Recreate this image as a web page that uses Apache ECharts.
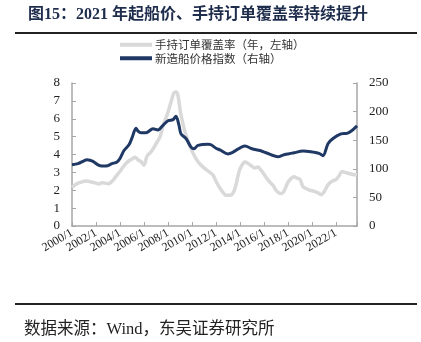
<!DOCTYPE html>
<html><head><meta charset="utf-8">
<script src="https://cdn.jsdelivr.net/npm/echarts@6/dist/echarts.min.js"></script>
<style>html,body{margin:0;padding:0;background:#fff}#c{width:421px;height:342px}</style>
</head><body><div id="c"></div>
<script>
// Hand-held order coverage (years, left axis)
const coverDates = ["2000/1","2000/4","2000/7","2000/10","2001/1","2001/4","2001/7","2001/10","2002/1","2002/4","2002/7","2002/10","2003/1","2003/4","2003/7","2003/10","2004/1","2004/4","2004/7","2004/10","2005/1","2005/4","2005/7","2005/10","2006/1","2006/4","2006/8","2006/11","2007/1","2007/5","2007/8","2007/12","2008/4","2008/7","2008/9","2008/11","2009/2","2009/7","2010/1","2010/7","2011/1","2011/7","2011/10","2012/1","2012/4","2012/7","2012/11","2013/4","2013/7","2013/9","2013/11","2014/1","2014/4","2014/6","2014/9","2014/12","2015/4","2015/7","2015/10","2016/1","2016/4","2016/7","2016/10","2017/1","2017/4","2017/7","2017/9","2017/11","2018/1","2018/4","2018/7","2018/10","2019/1","2019/4","2019/7","2019/11","2020/3","2020/7","2020/10","2021/1","2021/5","2021/9","2022/1","2022/4","2022/7","2022/10","2023/1","2023/5","2023/10"];
const coverValues = [2.15,2.3,2.4,2.45,2.5,2.52,2.48,2.45,2.4,2.35,2.42,2.4,2.36,2.45,2.62,2.85,3.05,3.3,3.5,3.65,3.75,3.85,3.7,3.6,3.4,3.9,4.15,4.4,4.6,4.98,5.6,6.2,6.94,7.45,7.5,7.3,6.2,5.07,4.2,3.6,3.25,3.0,2.85,2.5,2.2,1.95,1.72,1.73,1.95,2.3,2.8,3.2,3.5,3.6,3.5,3.38,3.25,3.3,3.12,2.9,2.65,2.45,2.28,2.0,1.85,1.82,1.95,2.2,2.45,2.65,2.75,2.68,2.6,2.2,2.1,2.0,1.95,1.85,1.75,1.9,2.3,2.5,2.6,2.8,3.05,3.0,2.95,2.9,2.85];
// Newbuilding price index (right axis)
const priceDates = ["2000/1","2000/7","2001/1","2001/4","2001/7","2001/10","2002/3","2002/7","2002/11","2003/5","2003/10","2004/1","2004/5","2004/10","2005/1","2005/5","2005/7","2005/10","2006/3","2006/10","2007/3","2007/8","2008/1","2008/6","2008/9","2008/12","2009/2","2009/7","2009/12","2010/3","2010/7","2011/5","2011/8","2012/1","2012/5","2013/1","2013/6","2014/6","2015/1","2015/9","2016/3","2017/3","2017/8","2018/1","2018/7","2019/4","2019/12","2020/3","2020/8","2020/12","2021/5","2021/10","2022/6","2022/12","2023/5","2023/10"];
const priceValues = [107,109,114,116,115,113,107,105,105,109,112,118,132,142,154,171,166,163,163,170,168,176,184,186,192,176,161,153,138,135,141,143,142,136,133,126,129,140,135,132,128,121,124,126,128,131,130,129,127,123,144,153,161,162,167,175];
const xTickYears = [2000,2002,2004,2006,2008,2010,2012,2014,2016,2018,2020,2022];
const leftTicks = [0,1,2,3,4,5,6,7,8];
const rightTicks = [0,50,100,150,200,250];
const seriesNames = ["手持订单覆盖率（年，左轴）","新造船价格指数（右轴）"];
const titleText = "图15：2021 年起船价、手持订单覆盖率持续提升";
const sourceText = "数据来源：Wind，东吴证券研究所";

function toYear(s){const p=s.split('/');return +p[0]+(+p[1]-1)/12;}
const coverData = coverDates.map((d,i)=>[toYear(d),coverValues[i]]);
const priceData = priceDates.map((d,i)=>[toYear(d),priceValues[i]]);

const serif = '"Liberation Serif","Noto Sans CJK SC",serif';
const axisColor = '#a6a6a6';
const grayC = '#d9d9d9', blueC = '#1f3864';
const chart = echarts.init(document.getElementById('c'));
chart.setOption({
  animation:false,
  title:{text:titleText,left:23,top:2,textStyle:{fontFamily:serif,fontSize:16,fontWeight:'bold',color:'#1f2d4d'}},
  graphic:[
    {type:'line',shape:{x1:15,y1:33,x2:417,y2:33},style:{stroke:'#222',lineWidth:2}},
    {type:'line',shape:{x1:15,y1:304,x2:417,y2:304},style:{stroke:'#222',lineWidth:2}},
    {type:'text',left:24,top:321,style:{text:sourceText,font:'16.5px '+serif,fill:'#222'}}
  ],
  legend:{orient:'vertical',left:115,top:34,itemWidth:32,itemHeight:4,itemGap:2,
    textStyle:{fontFamily:'"Noto Sans CJK SC",sans-serif',fontSize:11.5,color:'#333',padding:[0,0,0,-2]},
    data:[{name:seriesNames[0],icon:'rect',itemStyle:{color:grayC}},{name:seriesNames[1],icon:'rect',itemStyle:{color:blueC}}]},
  grid:{left:72,right:64,top:83,bottom:116},
  xAxis:{type:'value',min:2000,max:2023.75,interval:2,
    axisLine:{lineStyle:{color:axisColor,width:1.5}},
    axisTick:{inside:true,length:4,lineStyle:{color:axisColor}},
    splitLine:{show:false},
    axisLabel:{rotate:30,fontFamily:serif,fontSize:12,color:'#222',margin:6,
      formatter:v=>xTickYears.indexOf(v)>=0?v+'/1':''}},
  yAxis:[
    {type:'value',min:leftTicks[0],max:leftTicks[leftTicks.length-1],interval:1,
      axisLine:{show:true,lineStyle:{color:axisColor,width:1.5}},
      axisTick:{show:true,inside:true,length:4,lineStyle:{color:axisColor}},
      splitLine:{show:false},
      axisLabel:{fontFamily:serif,fontSize:13,color:'#222',margin:12}},
    {type:'value',min:rightTicks[0],max:rightTicks[rightTicks.length-1],interval:50,
      axisLine:{show:true,lineStyle:{color:axisColor,width:1.5}},
      axisTick:{show:true,inside:true,length:4,lineStyle:{color:axisColor}},
      splitLine:{show:false},
      axisLabel:{fontFamily:serif,fontSize:13,color:'#222',margin:12}}
  ],
  series:[
    {name:seriesNames[0],type:'line',yAxisIndex:0,data:coverData,symbol:'none',smooth:0.3,
      lineStyle:{color:grayC,width:3.5},itemStyle:{color:grayC},z:2},
    {name:seriesNames[1],type:'line',yAxisIndex:1,data:priceData,symbol:'none',smooth:0.3,
      lineStyle:{color:blueC,width:3},itemStyle:{color:blueC},z:3}
  ]
});
</script></body></html>
